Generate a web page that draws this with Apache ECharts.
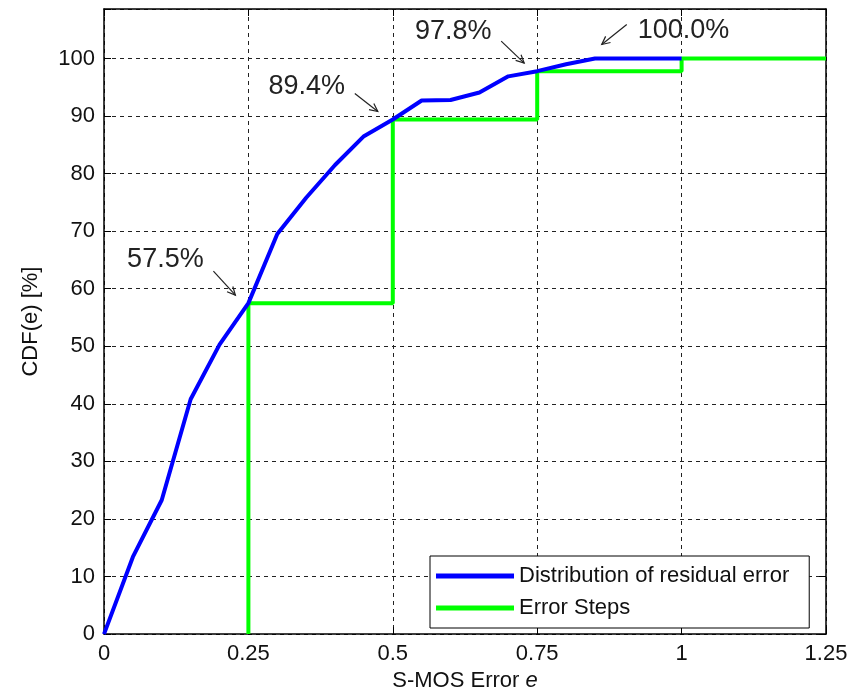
<!DOCTYPE html>
<html>
<head>
<meta charset="utf-8">
<script src="https://cdn.jsdelivr.net/npm/echarts@6/dist/echarts.min.js"></script>
<style>
  html, body { margin: 0; padding: 0; background: #fff; }
  #chart { width: 862px; height: 697px; }
</style>
</head>
<body>
<div id="chart"></div>
<script>
// Empirical CDF of residual S-MOS error (blue curve)
var errX = [0, 0.05, 0.1, 0.15, 0.2, 0.25, 0.3, 0.35, 0.4, 0.45, 0.5, 0.55, 0.6, 0.65, 0.7, 0.75, 0.8, 0.85, 0.9, 0.95, 1.0];
var cdfY = [0, 13.4, 23.3, 40.8, 50.3, 57.5, 69.5, 75.8, 81.5, 86.5, 89.4, 92.7, 92.8, 94.1, 96.9, 97.8, 99.0, 100, 100, 100, 100];

// Error steps (green staircase): thresholds and CDF level reached at each
var stepX = [0.25, 0.5, 0.75, 1.0];
var stepLevel = [57.5, 89.4, 97.8, 100];
var stepEndX = 1.25;

// Axis ticks
var xTicks = [0, 0.25, 0.5, 0.75, 1, 1.25];
var yMax = 108.6;

// Callouts: point on the curve and its text
var calloutX = [0.25, 0.5, 0.75, 0.86];
var calloutY = [57.5, 89.4, 97.8, 100];
var calloutText = ['57.5%', '89.4%', '97.8%', '100.0%'];

var seriesNames = ['Distribution of residual error', 'Error Steps'];

// Build staircase vertices from the step table
var stepData = [];
var prev = 0;
for (var i = 0; i < stepX.length; i++) {
  stepData.push([stepX[i], prev]);
  stepData.push([stepX[i], stepLevel[i]]);
  prev = stepLevel[i];
}
stepData.push([stepEndX, prev]);

var cdfData = errX.map(function (x, i) { return [x, cdfY[i]]; });
var calloutData = calloutX.map(function (x, i) { return [x, calloutY[i], i]; });

// Per-callout geometry relative to the pointed point (px): arrow tip, arrow tail, text anchor
var calloutGeom = [
  { tip: [-13, -8], tail: [-35, -32], text: [-83, -44], align: 'center' },
  { tip: [-15, -8], tail: [-38, -26], text: [-86, -33], align: 'center' },
  { tip: [-13, -8], tail: [-36, -30], text: [-84, -40], align: 'center' },
  { tip: [1, -14], tail: [26, -34], text: [37, -28], align: 'left' }
];

var FONT = 'Liberation Sans, Arial, sans-serif';
var gridDash = { color: '#222', type: [4, 4], width: 1 };

var chart = echarts.init(document.getElementById('chart'), null, { renderer: 'canvas' });

chart.setOption({
  backgroundColor: '#fff',
  animation: false,
  grid: { left: 104, right: 36, top: 9, bottom: 59, containLabel: false },
  legend: {
    orient: 'vertical',
    left: 430,
    top: 556,
    padding: [9, 20, 9, 6],
    itemGap: 10,
    itemWidth: 78,
    itemHeight: 5,
    icon: 'rect',
    backgroundColor: '#fff',
    borderColor: '#000',
    borderWidth: 1,
    borderRadius: 0,
    textStyle: { fontFamily: FONT, fontSize: 22, color: '#111', lineHeight: 22 },
    data: seriesNames
  },
  xAxis: [{
    type: 'value',
    min: 0, max: 1.25, interval: 0.25,
    position: 'bottom',
    name: '{n|S-MOS Error }{i|e}',
    nameLocation: 'middle',
    nameGap: 27,
    nameTextStyle: {
      rich: {
        n: { fontFamily: FONT, fontSize: 22, color: '#111' },
        i: { fontFamily: FONT, fontSize: 22, color: '#111', fontStyle: 'italic' }
      }
    },
    axisLine: { show: true, onZero: false, lineStyle: { color: '#000', width: 1.5 } },
    axisTick: { show: true, inside: true, length: 7, lineStyle: { color: '#000' } },
    axisLabel: {
      margin: 9, fontFamily: FONT, fontSize: 22, color: '#111',
      showMaxLabel: true,
      formatter: function (v) { return xTicks.indexOf(+v.toFixed(2)) >= 0 ? String(+v.toFixed(2)) : ''; }
    },
    splitLine: { show: true, lineStyle: gridDash }
  }, {
    type: 'value',
    min: 0, max: 1.25, interval: 0.25,
    position: 'top',
    axisLine: { show: true, onZero: false, lineStyle: { color: '#000', width: 1.5 } },
    axisTick: { show: true, inside: true, length: 7, lineStyle: { color: '#000' } },
    axisLabel: { show: false },
    splitLine: { show: false }
  }],
  yAxis: [{
    type: 'value',
    min: 0, max: yMax, interval: 10,
    position: 'left',
    name: 'CDF(e) [%]',
    nameLocation: 'middle',
    nameGap: 62,
    nameTextStyle: { fontFamily: FONT, fontSize: 22, color: '#111' },
    axisLine: { show: true, onZero: false, lineStyle: { color: '#000', width: 1.5 } },
    axisTick: { show: true, inside: true, length: 7, lineStyle: { color: '#000' } },
    axisLabel: {
      margin: 9, fontFamily: FONT, fontSize: 22, color: '#111',
      formatter: function (v) { return Math.abs(v % 10) < 1e-6 ? String(v) : ''; }
    },
    splitLine: { show: true, lineStyle: gridDash }
  }, {
    type: 'value',
    min: 0, max: yMax, interval: 10,
    position: 'right',
    axisLine: { show: true, onZero: false, lineStyle: { color: '#000', width: 1.5 } },
    axisTick: { show: true, inside: true, length: 7, lineStyle: { color: '#000' } },
    axisLabel: { show: false },
    splitLine: { show: false }
  }],
  series: [{
    name: seriesNames[0],
    type: 'line',
    data: cdfData,
    symbol: 'none',
    color: '#0000ff',
    lineStyle: { color: '#0000ff', width: 4 },
    z: 3
  }, {
    name: seriesNames[1],
    type: 'line',
    data: stepData,
    symbol: 'none',
    color: '#00ff00',
    lineStyle: { color: '#00ff00', width: 4 },
    z: 2
  }, {
    name: 'callouts',
    type: 'custom',
    data: calloutData,
    clip: false,
    z: 5,
    silent: true,
    renderItem: function (params, api) {
      var p = api.coord([api.value(0), api.value(1)]);
      var g = calloutGeom[api.value(2)];
      var tip = [p[0] + g.tip[0], p[1] + g.tip[1]];
      var tail = [p[0] + g.tail[0], p[1] + g.tail[1]];
      var ang = Math.atan2(tip[1] - tail[1], tip[0] - tail[0]);
      var hl = 9, spread = 0.45;
      var h1 = [tip[0] - hl * Math.cos(ang - spread), tip[1] - hl * Math.sin(ang - spread)];
      var h2 = [tip[0] - hl * Math.cos(ang + spread), tip[1] - hl * Math.sin(ang + spread)];
      var stroke = { stroke: '#222', lineWidth: 1.2, fill: null };
      return {
        type: 'group',
        children: [
          { type: 'line', shape: { x1: tail[0], y1: tail[1], x2: tip[0], y2: tip[1] }, style: stroke },
          { type: 'polyline', shape: { points: [h1, tip, h2] }, style: stroke },
          {
            type: 'text',
            x: p[0] + g.text[0], y: p[1] + g.text[1],
            style: {
              text: calloutText[api.value(2)],
              fontFamily: FONT, fontSize: 27, fill: '#222',
              align: g.align, verticalAlign: 'middle'
            }
          }
        ]
      };
    }
  }]
});
</script>
</body>
</html>
